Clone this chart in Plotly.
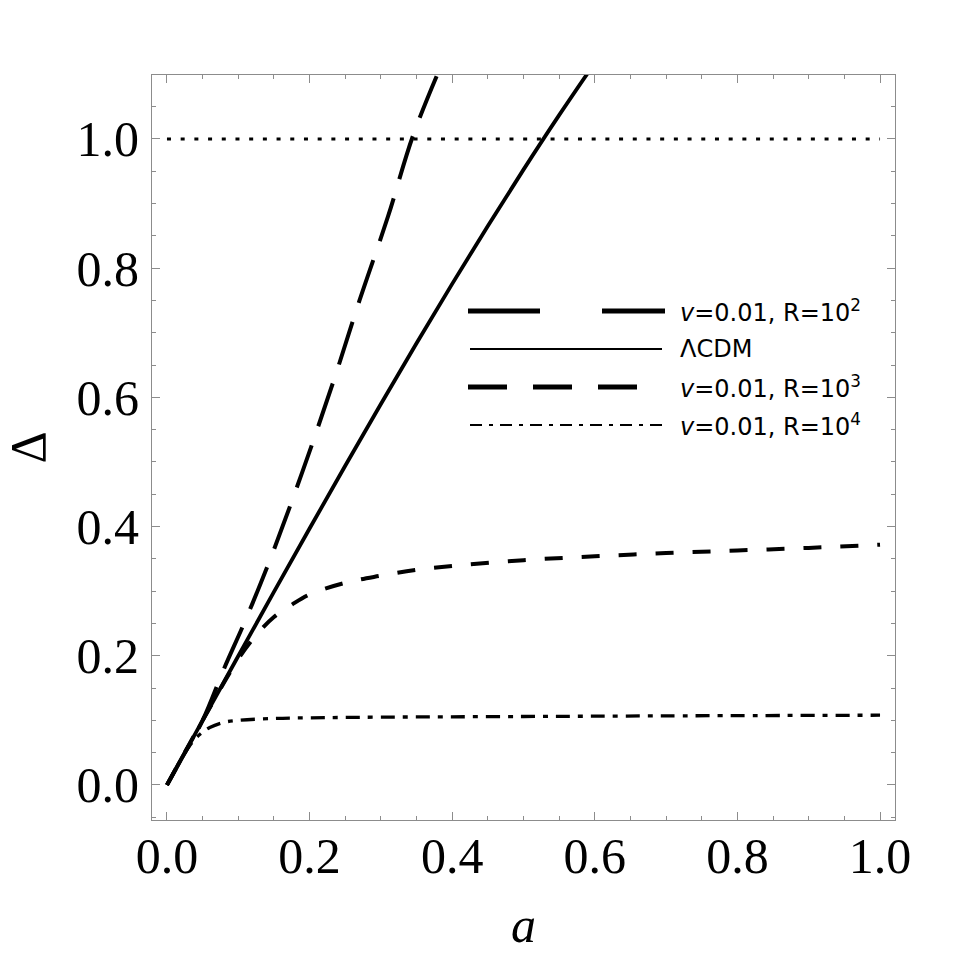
import plotly.graph_objects as go

# ---------------- data ----------------
a_lcdm = [0.0, 0.05, 0.1, 0.15, 0.2, 0.25, 0.3, 0.35, 0.4, 0.45, 0.5, 0.55, 0.6]
d_lcdm = [0.0, 0.1000, 0.1996, 0.2988, 0.3970, 0.4941, 0.5897, 0.6837, 0.7757, 0.8654, 0.9525, 1.0368, 1.1179]

a_r2 = [0.0, 0.02, 0.05, 0.08, 0.11, 0.145, 0.19, 0.235, 0.27, 0.31, 0.345, 0.385]
d_r2 = [0.0, 0.040, 0.100, 0.180, 0.255, 0.350, 0.485, 0.630, 0.750, 0.880, 1.005, 1.115]

a_r3 = [0.0, 0.05, 0.1, 0.125, 0.15, 0.175, 0.2, 0.25, 0.3, 0.35, 0.4, 0.5, 0.6, 0.7, 0.8, 0.9, 1.0]
d_r3 = [0.0, 0.100, 0.195, 0.232, 0.260, 0.279, 0.295, 0.313, 0.324, 0.333, 0.339, 0.348, 0.354,
        0.359, 0.363, 0.367, 0.372]

a_r4 = [0.0, 0.02, 0.03, 0.04, 0.05, 0.06, 0.08, 0.1, 0.15, 0.2, 0.3, 0.5, 0.7, 1.0]
d_r4 = [0.0, 0.040, 0.058, 0.072, 0.082, 0.089, 0.097, 0.100, 0.103, 0.104, 0.105, 0.106, 0.107, 0.108]

a_ref = [0.0, 1.0]
d_ref = [1.0, 1.0]

legend_labels = ["<i>v</i>=0.01, R=10<sup>2</sup>", "ΛCDM",
                 "<i>v</i>=0.01, R=10<sup>3</sup>", "<i>v</i>=0.01, R=10<sup>4</sup>"]

x_ticks = [0.0, 0.2, 0.4, 0.6, 0.8, 1.0]
y_ticks = [0.0, 0.2, 0.4, 0.6, 0.8, 1.0]
tick_text = ["0.0", "0.2", "0.4", "0.6", "0.8", "1.0"]

# ---------------- figure ----------------
W, H = 975, 969
ML, MR, MT, MB = 152, 80, 75, 149
PW, PH = W - ML - MR, H - MT - MB

def px(x):
    return (x - ML) / PW

def py(y):
    return (H - MB - y) / PH

fig = go.Figure()
fig.add_trace(go.Scatter(x=a_ref, y=d_ref, mode="lines",
                         line=dict(color="black", width=3, dash="4px,9.7px"), showlegend=False))
fig.add_trace(go.Scatter(x=a_r4, y=d_r4, mode="lines", line_shape="spline",
                         line=dict(color="black", width=3.3, dash="14px,8px,5px,8px"), showlegend=False))
fig.add_trace(go.Scatter(x=a_r3, y=d_r3, mode="lines", line_shape="spline",
                         line=dict(color="black", width=4, dash="18px,19px"), showlegend=False))
fig.add_trace(go.Scatter(x=a_lcdm, y=d_lcdm, mode="lines", line_shape="spline",
                         line=dict(color="black", width=3.8), showlegend=False))
fig.add_trace(go.Scatter(x=a_r2, y=d_r2, mode="lines", line_shape="spline",
                         line=dict(color="black", width=4, dash="45px,20px"), showlegend=False))

# manual legend (samples + labels)
rows_y = [311, 349, 387, 425]
samples = [
    dict(x0=468, x1=665, width=5, dash="72px,62px"),
    dict(x0=470, x1=662, width=2, dash="solid"),
    dict(x0=468, x1=637, width=5, dash="39px,26px"),
    dict(x0=470, x1=662, width=2, dash="12px,7px,4px,7px"),
]
for yy, s, lab in zip(rows_y, samples, legend_labels):
    fig.add_shape(type="line", xref="paper", yref="paper",
                  x0=px(s["x0"]), x1=px(s["x1"]), y0=py(yy), y1=py(yy),
                  line=dict(color="black", width=s["width"], dash=s["dash"]))
    fig.add_annotation(xref="paper", yref="paper", x=px(678), y=py(yy),
                       xanchor="left", yanchor="middle", text=lab, showarrow=False,
                       font=dict(family="DejaVu Sans", size=24, color="black"))

axis_common = dict(
    showline=True, linecolor="#8c8c8c", linewidth=1, mirror="ticks",
    ticks="inside", ticklen=8, tickwidth=1, tickcolor="#8c8c8c",
    showgrid=False, zeroline=False,
    tickfont=dict(family="Liberation Serif", size=50, color="black"),
    minor=dict(dtick=0.05, ticks="inside", ticklen=4, tickwidth=1, tickcolor="#8c8c8c", showgrid=False),
)

fig.update_xaxes(range=[-0.021, 1.021], tickvals=x_ticks, ticktext=tick_text,
                 title=dict(text="<i>a</i>", font=dict(family="Liberation Serif", size=50, color="black"),
                            standoff=23),
                 ticklabelstandoff=-8, **axis_common)
fig.update_yaxes(range=[-0.0542, 1.099], tickvals=y_ticks, ticktext=tick_text,
                 title=dict(text="Δ", font=dict(family="Liberation Serif", size=50, color="black"),
                            standoff=32),
                 ticklabelstandoff=2, **axis_common)

fig.update_layout(
    width=W, height=H,
    margin=dict(l=ML, r=MR, t=MT, b=MB, autoexpand=False),
    plot_bgcolor="white", paper_bgcolor="white",
    showlegend=False,
)

fig.write_html("out.html")
